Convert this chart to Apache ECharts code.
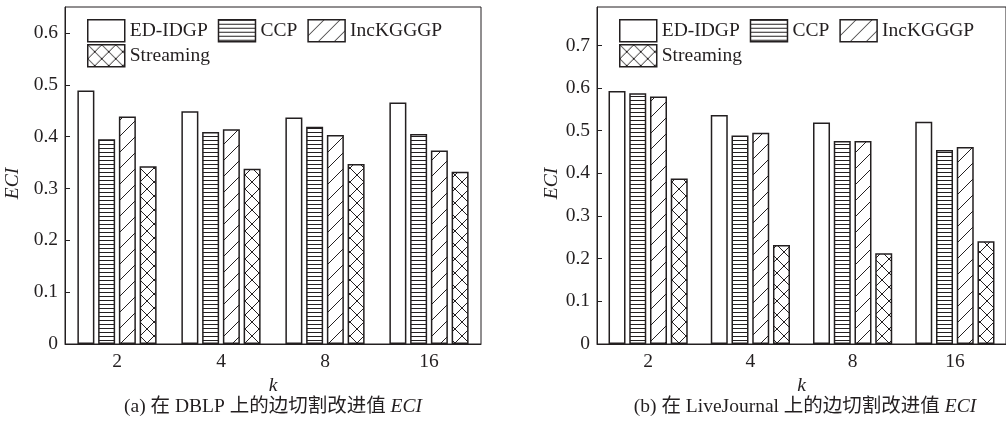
<!DOCTYPE html>
<html>
<head>
<meta charset="utf-8">
<script src="https://cdn.jsdelivr.net/npm/echarts@6/dist/echarts.min.js"></script>
<style>
  html, body { margin: 0; padding: 0; background: #fff; }
  #chart { width: 1006px; height: 421px; }
</style>
</head>
<body>
<div id="chart"></div>
<script>
// Partition counts k on the horizontal axis
const kLabels = ['2', '4', '8', '16'];
const methods = ['ED-IDGP', 'CCP', 'IncKGGGP', 'Streaming'];

// (a) DBLP: edge-cut improvement ECI
const dblpEdIdgp    = [0.489, 0.449, 0.437, 0.466];
const dblpCcp       = [0.395, 0.409, 0.419, 0.405];
const dblpIncKGGGP  = [0.439, 0.414, 0.403, 0.373];
const dblpStreaming = [0.343, 0.338, 0.347, 0.332];

// (b) LiveJournal: edge-cut improvement ECI
const ljEdIdgp    = [0.593, 0.537, 0.519, 0.521];
const ljCcp       = [0.588, 0.489, 0.476, 0.455];
const ljIncKGGGP  = [0.580, 0.495, 0.476, 0.462];
const ljStreaming = [0.388, 0.232, 0.213, 0.241];

const INK = '#231f20';
const FONT = '"Liberation Serif", "Times New Roman", "Noto Sans CJK SC", serif';
const FS = 19.5;

// Hatch tiles used as bar fills
function tile(w, h, draw) {
  const c = document.createElement('canvas');
  c.width = w; c.height = h;
  const g = c.getContext('2d');
  g.fillStyle = '#fff';
  g.fillRect(0, 0, w, h);
  g.strokeStyle = INK;
  g.lineWidth = 1;
  draw(g, w, h);
  return { image: c, repeat: 'repeat' };
}
function seg(g, x1, y1, x2, y2) {
  g.beginPath(); g.moveTo(x1, y1); g.lineTo(x2, y2); g.stroke();
}
const fillPlain = '#fff';
const fillHLines = tile(8, 4, (g, w) => seg(g, 0, 0.5, w, 0.5));
const fillDiag = tile(16, 16, (g, w, h) => {
  seg(g, -1, h + 1, w + 1, -1);
  seg(g, -1, 1, 1, -1);
  seg(g, w - 1, h + 1, w + 1, h - 1);
});
const fillCross = tile(14, 14, (g, w, h) => {
  seg(g, -1, h + 1, w + 1, -1);
  seg(g, -1, -1, w + 1, h + 1);
});
const fills = [fillPlain, fillHLines, fillDiag, fillCross];

function barSeries(name, data, fill, idx) {
  return {
    type: 'bar',
    name: name,
    data: data,
    xAxisIndex: idx,
    yAxisIndex: idx,
    barWidth: 17,
    barGap: '22%',
    itemStyle: { color: fill, borderColor: INK, borderWidth: 1.5 },
    emphasis: { disabled: true }
  };
}

const panels = [
  { left: 65, right: 525, max: 0.65, nameGap: 42, captionX: 273,
    sets: [dblpEdIdgp, dblpCcp, dblpIncKGGGP, dblpStreaming],
    caption: '(a) 在 DBLP 上的边切割改进值 ' },
  { left: 597, right: -7, max: 0.79, nameGap: 35, captionX: 805,
    sets: [ljEdIdgp, ljCcp, ljIncKGGGP, ljStreaming],
    caption: '(b) 在 LiveJournal 上的边切割改进值 ' }
];

const grids = [], xAxes = [], yAxes = [], series = [], legends = [], graphics = [];
panels.forEach((p, i) => {
  grids.push({ left: p.left, right: p.right, top: 7, bottom: 77,
    show: true, borderColor: INK, borderWidth: 1, backgroundColor: 'transparent' });
  xAxes.push({
    type: 'category', gridIndex: i, data: kLabels,
    axisLine: { lineStyle: { color: INK, width: 1 } },
    axisTick: { show: false },
    axisLabel: { color: INK, fontFamily: FONT, fontSize: FS, margin: 8 },
    name: 'k', nameLocation: 'middle', nameGap: 25,
    nameTextStyle: { color: INK, fontFamily: FONT, fontSize: FS, fontStyle: 'italic' }
  });
  yAxes.push({
    type: 'value', gridIndex: i, min: 0, max: p.max, interval: 0.1,
    axisLine: { show: true, lineStyle: { color: INK, width: 1 } },
    axisTick: { show: true, inside: true, length: 5, lineStyle: { color: INK } },
    splitLine: { show: false },
    axisLabel: { color: INK, fontFamily: FONT, fontSize: FS, margin: 7, showMaxLabel: false },
    name: 'ECI', nameLocation: 'middle', nameGap: p.nameGap,
    nameTextStyle: { color: INK, fontFamily: FONT, fontSize: FS, fontStyle: 'italic',
      padding: [0, 16, 0, 0] }
  });
  methods.forEach((m, j) => series.push(barSeries(m, p.sets[j], fills[j], i)));

  const legendBase = {
    orient: 'horizontal', icon: 'rect', itemWidth: 37, itemHeight: 22, itemGap: 10,
    padding: 0, selectedMode: false,
    itemStyle: { borderColor: INK, borderWidth: 1.5 },
    textStyle: { color: INK, fontFamily: FONT, fontSize: FS }
  };
  const lx = p.left + 22;
  legends.push(Object.assign({}, legendBase, { left: lx, top: 19, data: methods.slice(0, 3) }));
  legends.push(Object.assign({}, legendBase, { left: lx, top: 44, data: methods.slice(3) }));

  // caption under each panel
  graphics.push({
    type: 'text', x: p.captionX, y: 407,
    style: {
      text: p.caption + '{i|ECI}',
      fill: INK, font: FS + 'px ' + FONT,
      align: 'center', verticalAlign: 'middle',
      rich: { i: { fontStyle: 'italic', fontFamily: FONT, fontSize: FS, fill: INK } }
    }
  });
});

const chart = echarts.init(document.getElementById('chart'), null, { renderer: 'canvas' });
chart.setOption({
  animation: false,
  backgroundColor: '#fff',
  grid: grids,
  xAxis: xAxes,
  yAxis: yAxes,
  legend: legends,
  series: series,
  graphic: graphics
});
</script>
</body>
</html>
